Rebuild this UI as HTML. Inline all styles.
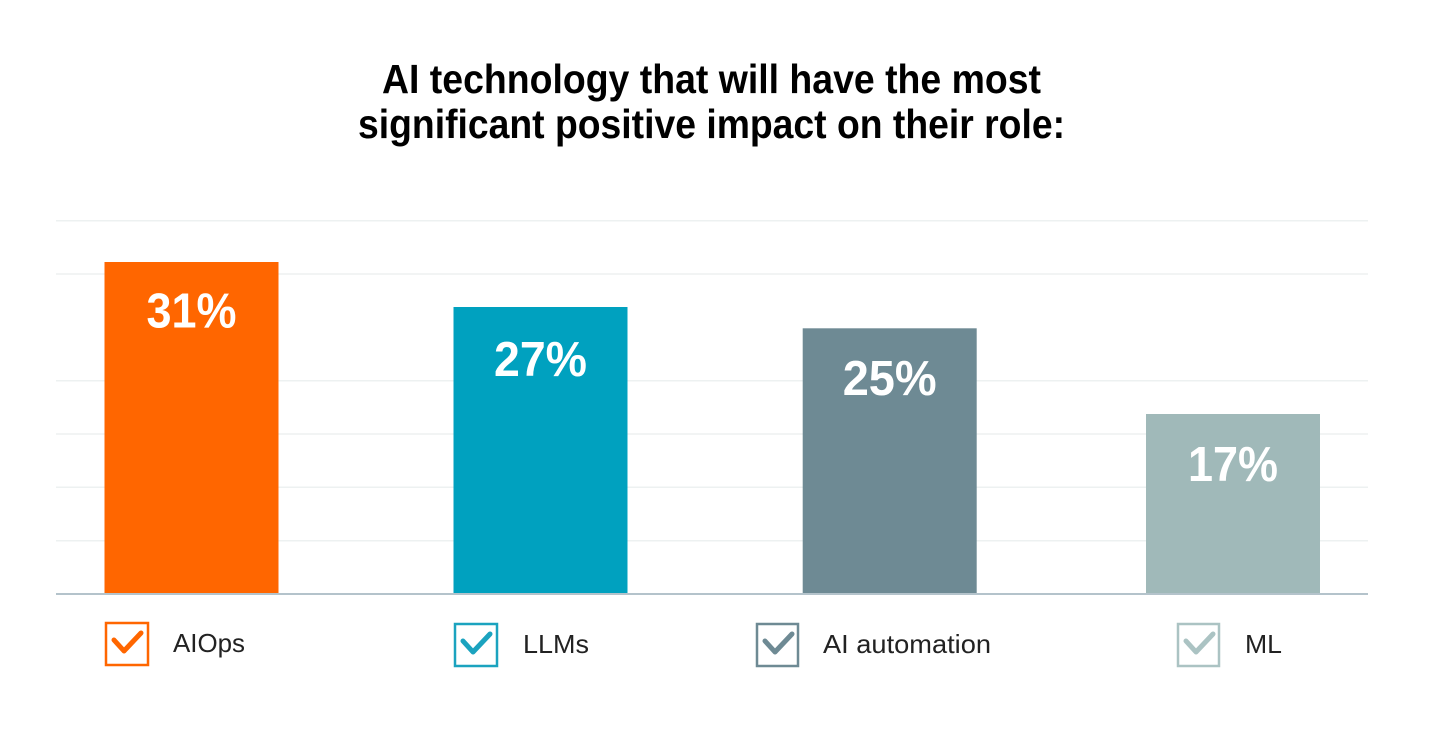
<!DOCTYPE html>
<html>
<head>
<meta charset="utf-8">
<style>
html,body{margin:0;padding:0;background:#fff;}
svg{display:block;}
</style>
</head>
<body>
<svg width="1438" height="738" viewBox="0 0 1438 738" xmlns="http://www.w3.org/2000/svg">
  <rect width="1438" height="738" fill="#ffffff"/>
  <!-- Title -->
  <g font-family="'Liberation Sans', sans-serif" font-weight="bold" font-size="41" fill="#000">
    <text x="382" y="93" textLength="659" lengthAdjust="spacingAndGlyphs">AI technology that will have the most</text>
    <text x="358" y="138" textLength="707" lengthAdjust="spacingAndGlyphs">significant positive impact on their role:</text>
  </g>
  <!-- Gridlines -->
  <g stroke="#edf1f1" stroke-width="1.5">
    <line x1="56" y1="220.7" x2="1368" y2="220.7"/>
    <line x1="56" y1="274" x2="1368" y2="274"/>
    <line x1="56" y1="380.7" x2="1368" y2="380.7"/>
    <line x1="56" y1="434" x2="1368" y2="434"/>
    <line x1="56" y1="487.3" x2="1368" y2="487.3"/>
    <line x1="56" y1="540.7" x2="1368" y2="540.7"/>
  </g>
  <!-- Bars -->
  <rect x="104.5" y="262" width="174" height="332" fill="#ff6600"/>
  <rect x="453.5" y="307" width="174" height="287" fill="#00a1bf"/>
  <rect x="802.7" y="328.3" width="174" height="265.7" fill="#6e8a94"/>
  <rect x="1146" y="414" width="174" height="180" fill="#a0b9b9"/>
  <!-- Axis baseline -->
  <line x1="56" y1="594" x2="1368" y2="594" stroke="#b4c3cb" stroke-width="2"/>
  <!-- Bar labels -->
  <g font-family="'Liberation Sans', sans-serif" font-weight="bold" font-size="49" fill="#fff" text-anchor="middle">
    <text x="191.5" y="327.5" textLength="90" lengthAdjust="spacingAndGlyphs">31%</text>
    <text x="540.5" y="376" textLength="93" lengthAdjust="spacingAndGlyphs">27%</text>
    <text x="889.7" y="395" textLength="94" lengthAdjust="spacingAndGlyphs">25%</text>
    <text x="1233" y="481" textLength="90" lengthAdjust="spacingAndGlyphs">17%</text>
  </g>
  <!-- Legend -->
  <g fill="none" stroke-width="2.5">
    <rect x="106" y="623" width="42" height="42" stroke="#ff6600"/>
    <polyline points="114,640 124,651 141,633" stroke="#ff6600" stroke-width="5" stroke-linecap="round" stroke-linejoin="round"/>
    <rect x="455" y="624" width="42" height="42" stroke="#1ba3bf"/>
    <polyline points="463,641 473,652 490,634" stroke="#1ba3bf" stroke-width="5" stroke-linecap="round" stroke-linejoin="round"/>
    <rect x="757" y="624" width="41" height="42" stroke="#6e8a94"/>
    <polyline points="765,641 775,652 792,634" stroke="#6e8a94" stroke-width="5" stroke-linecap="round" stroke-linejoin="round"/>
    <rect x="1178" y="624" width="41" height="42" stroke="#abc3c3"/>
    <polyline points="1186,641 1196,652 1213,634" stroke="#abc3c3" stroke-width="5" stroke-linecap="round" stroke-linejoin="round"/>
  </g>
  <g font-family="'Liberation Sans', sans-serif" font-size="26" fill="#222">
    <text x="173" y="652" textLength="72" lengthAdjust="spacingAndGlyphs">AIOps</text>
    <text x="523" y="653" textLength="66" lengthAdjust="spacingAndGlyphs">LLMs</text>
    <text x="823" y="653" textLength="168" lengthAdjust="spacingAndGlyphs">AI automation</text>
    <text x="1245" y="653" textLength="37" lengthAdjust="spacingAndGlyphs">ML</text>
  </g>
</svg>
</body>
</html>
